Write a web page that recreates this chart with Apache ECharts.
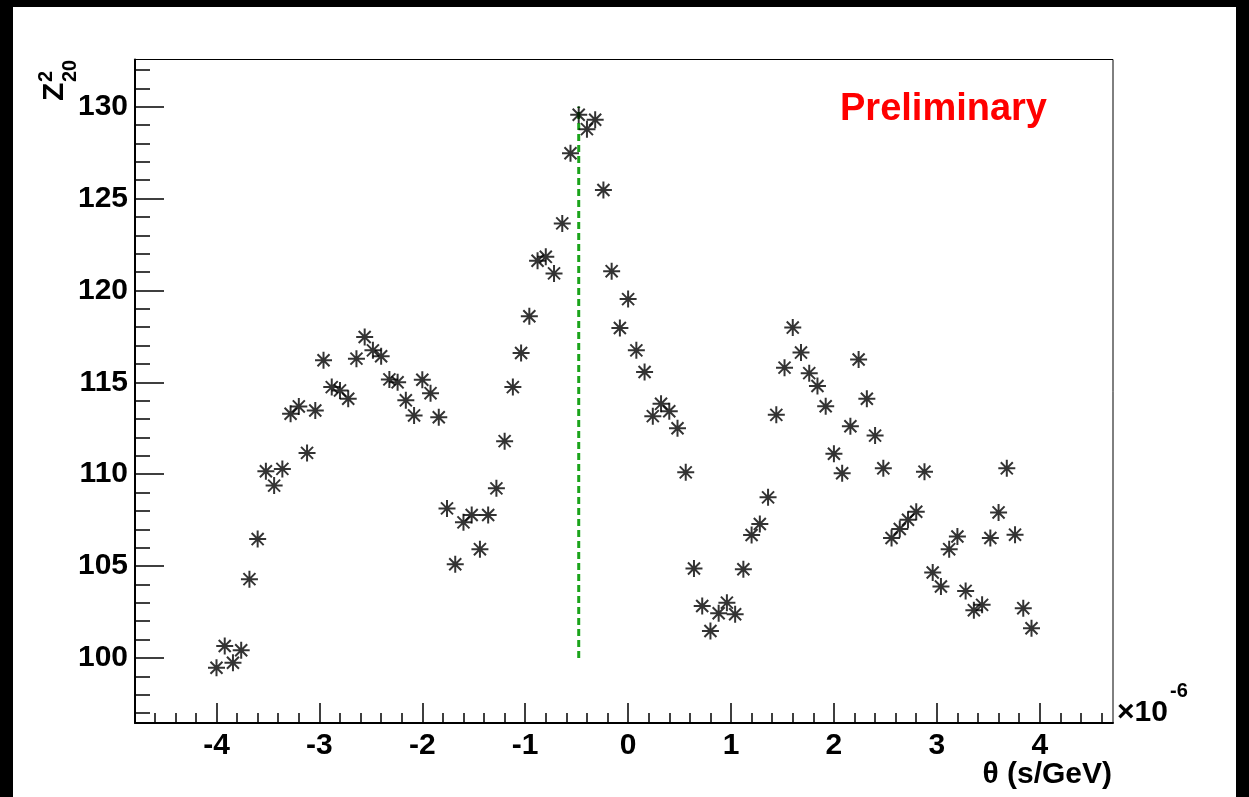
<!DOCTYPE html>
<html>
<head>
<meta charset="utf-8">
<script src="https://cdn.jsdelivr.net/npm/echarts@6/dist/echarts.min.js"></script>
<style>
  html, body { margin: 0; padding: 0; background: #000; width: 1249px; height: 797px; overflow: hidden; }
  #chart { position: absolute; left: 13px; top: 7px; width: 1223px; height: 790px; background: #fff; }
</style>
</head>
<body>
<div id="chart"></div>
<script>
// theta values (x 1e-6 s/GeV)
var thetaValues = [
  -4.00, -3.92, -3.84, -3.76, -3.68, -3.60, -3.52, -3.44, -3.36, -3.28,
  -3.20, -3.12, -3.04, -2.96, -2.88, -2.80, -2.72, -2.64, -2.56, -2.48,
  -2.40, -2.32, -2.24, -2.16, -2.08, -2.00, -1.92, -1.84, -1.76, -1.68,
  -1.60, -1.52, -1.44, -1.36, -1.28, -1.20, -1.12, -1.04, -0.96, -0.88,
  -0.80, -0.72, -0.64, -0.56, -0.48, -0.40, -0.32, -0.24, -0.16, -0.08,
   0.00,  0.08,  0.16,  0.24,  0.32,  0.40,  0.48,  0.56,  0.64,  0.72,
   0.80,  0.88,  0.96,  1.04,  1.12,  1.20,  1.28,  1.36,  1.44,  1.52,
   1.60,  1.68,  1.76,  1.84,  1.92,  2.00,  2.08,  2.16,  2.24,  2.32,
   2.40,  2.48,  2.56,  2.64,  2.72,  2.80,  2.88,  2.96,  3.04,  3.12,
   3.20,  3.28,  3.36,  3.44,  3.52,  3.60,  3.68,  3.76,  3.84,  3.92
];
// Z^2_20 values
var z2Values = [
  99.47, 100.65, 99.74, 100.42, 104.29, 106.47, 110.16, 109.38, 110.29, 113.29,
  113.69, 111.16, 113.47, 116.20, 114.74, 114.56, 114.11, 116.29, 117.47, 116.74,
  116.42, 115.16, 115.00, 114.02, 113.20, 115.14, 114.41, 113.10, 108.14, 105.10,
  107.38, 107.78, 105.92, 107.78, 109.23, 111.80, 114.74, 116.60, 118.60, 121.62,
  121.83, 120.93, 123.65, 127.47, 129.56, 128.78, 129.29, 125.47, 121.05, 117.96,
  119.53, 116.74, 115.56, 113.16, 113.83, 113.43, 112.50, 110.10, 104.87, 102.83,
  101.47, 102.43, 103.01, 102.38, 104.83, 106.69, 107.29, 108.74, 113.23, 115.80,
  117.98, 116.62, 115.50, 114.80, 113.70, 111.11, 110.05, 112.61, 116.24, 114.11,
  112.10, 110.32, 106.53, 107.02, 107.52, 107.96, 110.14, 104.65, 103.89, 105.92,
  106.61, 103.65, 102.60, 102.89, 106.53, 107.92, 110.32, 106.71, 102.71, 101.62
];
// vertical marker line at the peak
var peakTheta = -0.48;
var peakLineRange = [100, 130];

var xTickLabels = [-4, -3, -2, -1, 0, 1, 2, 3, 4];
var yTickLabels = [100, 105, 110, 115, 120, 125, 130];

var xRange = [-4.792, 4.712];
var yRange = [96.46, 132.57];

var xMinor = [];
for (var i = -24; i <= 23; i++) {
  if (i % 5 !== 0) xMinor.push(Math.round(i * 20) / 100);
}
var yMinor = [];
for (var j = 97; j <= 132; j++) {
  if (j % 5 !== 0) yMinor.push(j);
}

var points = thetaValues.map(function (t, k) { return [t, z2Values[k]]; });
var peakLine = [[peakTheta, peakLineRange[0]], [peakTheta, peakLineRange[1]]];

var font = 'Liberation Sans, Arial, Helvetica, sans-serif';
var star = 'path://M0,8L16,8M8,0L8,16M2.34,2.34L13.66,13.66M13.66,2.34L2.34,13.66';

var chart = echarts.init(document.getElementById('chart'), null, { renderer: 'canvas' });

var option = {
  animation: false,
  backgroundColor: '#fff',
  grid: {
    left: 122, right: 123, top: 52.5, bottom: 74,
    show: true, borderColor: '#000', borderWidth: 1, backgroundColor: 'transparent'
  },
  xAxis: [
    {
      type: 'value', min: xRange[0], max: xRange[1],
      axisLine: { show: true, onZero: false, lineStyle: { color: '#000', width: 2 } },
      axisTick: { show: true, inside: true, length: 20, customValues: xTickLabels, lineStyle: { color: '#000', width: 1.5 } },
      axisLabel: {
        show: true, customValues: xTickLabels, margin: 8,
        fontFamily: font, fontSize: 30, fontWeight: 'bold', color: '#000',
        formatter: function (v) { return String(v); }
      },
      splitLine: { show: false }
    },
    {
      type: 'value', min: xRange[0], max: xRange[1], position: 'bottom',
      axisLine: { show: false, onZero: false },
      axisTick: { show: true, inside: true, length: 10, customValues: xMinor, lineStyle: { color: '#000', width: 1.5 } },
      axisLabel: { show: false },
      splitLine: { show: false }
    }
  ],
  yAxis: [
    {
      type: 'value', min: yRange[0], max: yRange[1],
      axisLine: { show: true, onZero: false, lineStyle: { color: '#000', width: 2 } },
      axisTick: { show: true, inside: true, length: 29, customValues: yTickLabels, lineStyle: { color: '#000', width: 1.5 } },
      axisLabel: {
        show: true, customValues: yTickLabels, margin: 7,
        fontFamily: font, fontSize: 30, fontWeight: 'bold', color: '#000'
      },
      splitLine: { show: false }
    },
    {
      type: 'value', min: yRange[0], max: yRange[1], position: 'left',
      axisLine: { show: false, onZero: false },
      axisTick: { show: true, inside: true, length: 15, customValues: yMinor, lineStyle: { color: '#000', width: 1.5 } },
      axisLabel: { show: false },
      splitLine: { show: false }
    }
  ],
  series: [
    {
      type: 'line', name: 'peak', data: peakLine,
      xAxisIndex: 0, yAxisIndex: 0,
      symbol: 'none', silent: true, z: 1,
      lineStyle: { color: '#1aa31a', width: 3, type: [7, 4] }
    },
    {
      type: 'scatter', name: 'Z2', data: points,
      xAxisIndex: 0, yAxisIndex: 0,
      symbol: star, symbolSize: 17, z: 3,
      itemStyle: { color: 'rgba(0,0,0,0)', borderColor: '#000', borderWidth: 2 },
      emphasis: { disabled: true }
    }
  ],
  graphic: [
    {
      type: 'text', left: 827, top: 84,
      style: { text: 'Preliminary', fill: '#ff0000', font: 'bold 38px ' + font }
    },
    {
      type: 'text', x: 1099, y: 768,
      style: { text: 'θ (s/GeV)', fill: '#000', font: 'bold 30px ' + font, verticalAlign: 'middle', align: 'right' }
    },
    {
      type: 'text', x: 1104, y: 706,
      style: { text: '×10', fill: '#000', font: 'bold 30px ' + font, verticalAlign: 'middle', align: 'left' }
    },
    {
      type: 'text', x: 1157, y: 684,
      style: { text: '-6', fill: '#000', font: 'bold 20px ' + font, verticalAlign: 'middle', align: 'left' }
    },
    {
      type: 'group', x: 53, y: 94, rotation: Math.PI / 2,
      children: [
        { type: 'text', x: 0, y: -11, style: { text: 'Z', fill: '#000', font: 'bold 30px ' + font, verticalAlign: 'middle', align: 'left' } },
        { type: 'text', x: 19, y: -20, style: { text: '2', fill: '#000', font: 'bold 20px ' + font, verticalAlign: 'middle', align: 'left' } },
        { type: 'text', x: 19, y: 4, style: { text: '20', fill: '#000', font: 'bold 20px ' + font, verticalAlign: 'middle', align: 'left' } }
      ]
    }
  ]
};

chart.setOption(option);

window.addEventListener('resize', function () {
  chart.resize();
});
</script>
</body>
</html>
